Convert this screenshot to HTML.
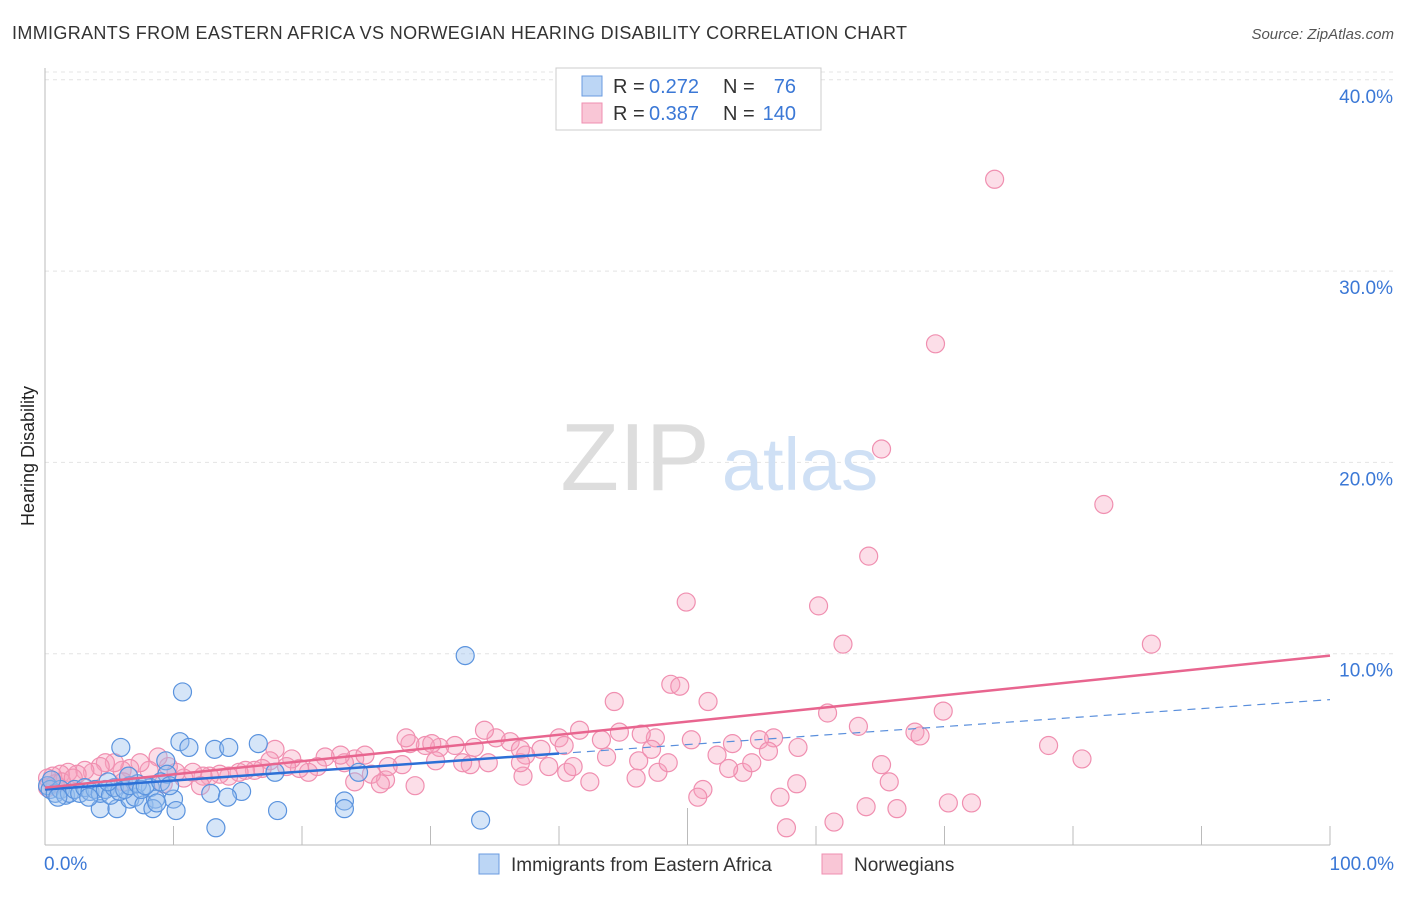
<!DOCTYPE html>
<html><head><meta charset="utf-8"><style>
body{margin:0;background:#fff;font-family:"Liberation Sans",sans-serif}
svg text{font-family:"Liberation Sans",sans-serif}
</style></head><body>
<svg width="1406" height="892">
<text x="12" y="39" font-size="18" fill="#333" textLength="895">IMMIGRANTS FROM EASTERN AFRICA VS NORWEGIAN HEARING DISABILITY CORRELATION CHART</text>
<text x="1394" y="39" font-size="15" fill="#555" font-style="italic" text-anchor="end">Source: ZipAtlas.com</text>
<text x="34" y="456" font-size="18" fill="#222" transform="rotate(-90 34 456)" text-anchor="middle">Hearing Disability</text>
<g id="grid"></g>
<text x="635" y="490" font-size="96" fill="#ddd" font-family="Liberation Serif" text-anchor="middle">ZIP</text>
<text x="800" y="490" font-size="74" fill="#cfe0f5" text-anchor="middle">atlas</text>
<g id="axes"></g>
<g id="pts"></g>
<g id="lines"></g>
<g>
<rect x="556" y="68" width="265" height="62" fill="#fff" stroke="#ccc"/>
<rect x="582" y="76" width="20" height="20" fill="#bcd6f5" stroke="#6a9be0"/>
<text x="613" y="93" font-size="20" fill="#333">R =</text>
<text x="649" y="93" font-size="20" fill="#3b78d6">0.272</text>
<text x="723" y="93" font-size="20" fill="#333">N =</text>
<text x="796" y="93" font-size="20" fill="#3b78d6" text-anchor="end">76</text>
<rect x="582" y="103" width="20" height="20" fill="#f9c6d6" stroke="#ef8fb0"/>
<text x="613" y="120" font-size="20" fill="#333">R =</text>
<text x="649" y="120" font-size="20" fill="#3b78d6">0.387</text>
<text x="723" y="120" font-size="20" fill="#333">N =</text>
<text x="796" y="120" font-size="20" fill="#3b78d6" text-anchor="end">140</text>
</g>
<g>
<rect x="479" y="854" width="20" height="20" fill="#bcd6f5" stroke="#6a9be0"/>
<text x="511" y="871" font-size="19" fill="#333">Immigrants from Eastern Africa</text>
<rect x="822" y="854" width="20" height="20" fill="#f9c6d6" stroke="#ef8fb0"/>
<text x="854" y="871" font-size="19" fill="#333">Norwegians</text>
</g>
</svg>
<script>
const yTicks=[10,20,30,40];
const yTickLabels=["10.0%","20.0%","30.0%","40.0%"];
const xTickLabels=["0.0%","100.0%"];
const blueX=[32.7,10.7,10.5,11.2,5.9,13.2,14.3,16.6,9.4,9.5,17.9,24.4,15.3,12.9,14.2,8.2,10.0,10.2,4.3,5.6,18.1,23.3,23.3,13.3,33.9,6.6,7.0,7.7,8.6,8.4,8.7,0.2,0.4,0.8,1.2,1.6,1.9,2.3,2.7,3.1,3.5,3.9,4.3,4.7,5.1,5.4,5.8,6.2,6.6,7.2,7.5,7.8,9.0,4.9,0.5,1.0,3.4,6.5,9.7];
const blueY=[9.9,8.0,5.4,5.1,5.1,5.0,5.1,5.3,4.4,3.7,3.8,3.8,2.8,2.7,2.5,3.0,2.4,1.8,1.9,1.9,1.8,2.3,1.9,0.9,1.3,2.4,2.5,2.1,2.4,1.9,2.2,3.1,2.9,2.7,2.9,2.6,2.7,2.9,2.7,3.0,2.8,2.9,2.7,2.9,2.6,3.0,2.8,2.9,3.1,3.2,2.9,3.1,3.3,3.3,3.4,2.5,2.5,3.6,3.1];
const pinkX=[73.9,69.3,65.1,82.4,64.1,49.9,60.2,62.1,86.1,48.7,49.4,44.3,51.6,60.9,69.9,63.3,67.7,68.1,78.1,80.7,50.3,56.7,58.6,55.6,53.5,47.5,46.4,44.7,43.3,41.6,40,38.6,37.4,36.2,35.1,34.2,33.4,31.9,30.7,29.6,28.4,28.1,52.3,56.3,65.1,54.3,53.2,55.0,58.5,65.7,46,47.7,51.2,50.8,57.2,63.9,66.3,70.3,72.1,57.7,61.4,43.7,46.2,48.5,47.2,42.4,40.6,41.1,39.2,37.2,37.0,34.5,33.1,32.5,30.4,30.1,28.8,26.5,25.4,26.1,27.8,26.7,24.1,24.9,23.3,23.0,21.8,21.2,20.5,19.8,19.2,18.8,17.9,17.5,16.9,16.3,15.6,15.1,14.3,13.6,12.8,12.3,11.5,10.8,10.2,9.6,8.8,8.1,7.4,6.6,6.0,5.4,4.7,4.3,3.7,3.1,2.5,1.8,1.2,0.6,0.2,0.2,0.8,1.3,2.2,12.1,9.2,6.1,24.1,37,40.4];
const pinkY=[34.8,26.2,20.7,17.8,15.1,12.7,12.5,10.5,10.5,8.4,8.3,7.5,7.5,6.9,7.0,6.2,5.9,5.7,5.2,4.5,5.5,5.6,5.1,5.5,5.3,5.6,5.8,5.9,5.5,6.0,5.6,5.0,4.7,5.4,5.6,6.0,5.1,5.2,5.1,5.2,5.3,5.6,4.7,4.9,4.2,3.8,4.0,4.3,3.2,3.3,3.5,3.8,2.9,2.5,2.5,2.0,1.9,2.2,2.2,0.9,1.2,4.6,4.4,4.3,5.0,3.3,3.8,4.1,4.1,3.6,4.3,4.3,4.2,4.3,4.4,5.3,3.1,3.4,3.7,3.2,4.2,4.1,4.5,4.7,4.3,4.7,4.6,4.1,3.8,4.0,4.5,4.1,5.0,4.4,4.0,3.9,3.9,3.8,3.6,3.7,3.6,3.6,3.8,3.5,3.8,4.1,4.6,3.9,4.3,4.0,3.9,4.3,4.3,4.1,3.8,3.9,3.7,3.8,3.7,3.6,3.5,3.0,3.2,3.3,3.5,3.1,3.2,3.3,3.3,5.0,5.2];
const blueTrend=[2.9,7.6];
const pinkTrend=[3.0,9.9];
const X=v=>45+v*12.85, Y=v=>845-v*19.13;
const NS='http://www.w3.org/2000/svg';
function mk(p,t,a){const e=document.createElementNS(NS,t);for(const k in a)e.setAttribute(k,a[k]);p.appendChild(e);return e;}
const grid=document.getElementById('grid'),axes=document.getElementById('axes'),pts=document.getElementById('pts'),lines=document.getElementById('lines');
const topLine=mk(grid,'line',{x1:45,x2:1395,y1:72,y2:72,stroke:'#e4e4e4','stroke-dasharray':'4,4'});


yTicks.forEach((t,i)=>{
 const l=mk(grid,'line',{x1:45,x2:1395,y1:Y(t),y2:Y(t),stroke:'#e4e4e4','stroke-dasharray':'4,4'});
 
 
 const tx=mk(grid,'text',{x:1393,y:Y(t)+23,'font-size':19,fill:'#3b78d6','text-anchor':'end'});tx.textContent=yTickLabels[i];
 
 
});
const ya=mk(axes,'line',{x1:45,x2:45,y1:68,y2:845,stroke:'#bbb'});


const xa=mk(axes,'line',{x1:45,x2:1330,y1:845,y2:845,stroke:'#bbb'});


for(let i=1;i<=10;i++){const tk=mk(axes,'line',{x1:X(i*10),x2:X(i*10),y1:i==5?808:826,y2:845,stroke:'#bbb'});
 
 }
const xl0=mk(axes,'text',{x:44,y:870,'font-size':19,fill:'#3b78d6'});xl0.textContent=xTickLabels[0];


const xl1=mk(axes,'text',{x:1394,y:870,'font-size':19,fill:'#3b78d6','text-anchor':'end'});xl1.textContent=xTickLabels[1];


pinkX.forEach((v,i)=>{const c=mk(pts,'circle',{cx:X(v),cy:Y(pinkY[i]),r:9,fill:'rgba(246,160,190,0.35)',stroke:'#f08fb0','stroke-width':1.2});
 
 });
blueX.forEach((v,i)=>{const c=mk(pts,'circle',{cx:X(v),cy:Y(blueY[i]),r:9,fill:'rgba(150,190,238,0.4)',stroke:'#5a93de','stroke-width':1.2});
 
 });
const bAt=v=>blueTrend[0]+(blueTrend[1]-blueTrend[0])*v/100;
const bs=mk(lines,'line',{x1:X(0),y1:Y(bAt(0)),x2:X(40),y2:Y(bAt(40)),stroke:'#2c6fd6','stroke-width':2.5});


const bd=mk(lines,'line',{x1:X(40),y1:Y(bAt(40)),x2:X(100),y2:Y(bAt(100)),stroke:'#5a8fdc','stroke-width':1.2,'stroke-dasharray':'8,6'});


const pl=mk(lines,'line',{x1:X(0),y1:Y(pinkTrend[0]),x2:X(100),y2:Y(pinkTrend[1]),stroke:'#e8658f','stroke-width':2.5});


</script>
</body></html>
